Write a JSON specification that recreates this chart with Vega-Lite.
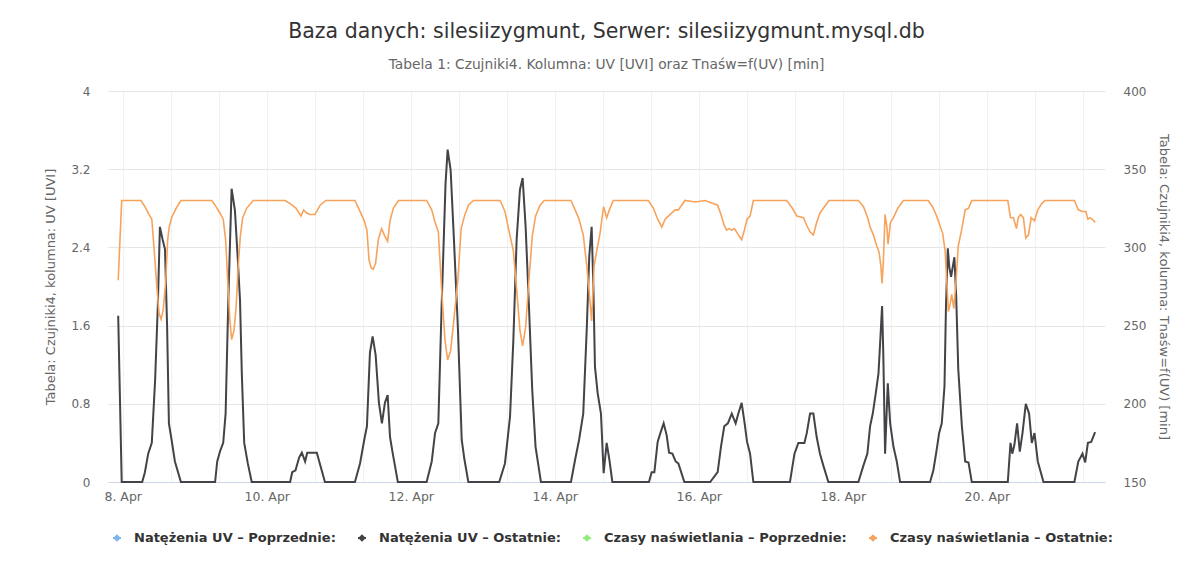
{
  "width": 997,
  "height": 391,
  "autosize": {"type": "none"},
  "padding": {"left": 108, "top": 91, "right": 97, "bottom": 94},
  "background": "white",
  "config": {"view": {"stroke": null}},
  "title": {
    "text": "Baza danych: silesiizygmunt, Serwer: silesiizygmunt.mysql.db",
    "subtitle": "Tabela 1: Czujniki4. Kolumna: UV [UVI] oraz Tnaśw=f(UV) [min]",
    "font": "DejaVu Sans",
    "subtitleFont": "DejaVu Sans",
    "fontSize": 20.5,
    "fontWeight": "normal",
    "color": "#333333",
    "subtitleFontSize": 13.8,
    "subtitleColor": "#666666",
    "subtitlePadding": 16,
    "offset": 13,
    "anchor": "middle"
  },
  "datasets": {
    "uv": [
      {"t": "2021-04-07T22:30", "v": 1.70},
      {"t": "2021-04-07T23:40", "v": 0},
      {"t": "2021-04-08T06:30", "v": 0},
      {"t": "2021-04-08T07:24", "v": 0.10},
      {"t": "2021-04-08T08:30", "v": 0.29},
      {"t": "2021-04-08T09:42", "v": 0.40},
      {"t": "2021-04-08T10:48", "v": 1.04},
      {"t": "2021-04-08T11:42", "v": 1.80},
      {"t": "2021-04-08T12:24", "v": 2.61},
      {"t": "2021-04-08T13:18", "v": 2.48},
      {"t": "2021-04-08T14:06", "v": 2.38},
      {"t": "2021-04-08T14:48", "v": 1.59},
      {"t": "2021-04-08T15:24", "v": 0.60},
      {"t": "2021-04-08T16:18", "v": 0.43},
      {"t": "2021-04-08T17:24", "v": 0.21},
      {"t": "2021-04-08T19:24", "v": 0},
      {"t": "2021-04-09T06:48", "v": 0},
      {"t": "2021-04-09T07:30", "v": 0.21},
      {"t": "2021-04-09T08:24", "v": 0.31},
      {"t": "2021-04-09T09:30", "v": 0.40},
      {"t": "2021-04-09T10:18", "v": 0.70},
      {"t": "2021-04-09T11:12", "v": 1.86},
      {"t": "2021-04-09T12:18", "v": 3.00},
      {"t": "2021-04-09T13:24", "v": 2.78},
      {"t": "2021-04-09T14:18", "v": 2.31},
      {"t": "2021-04-09T15:06", "v": 1.86},
      {"t": "2021-04-09T15:42", "v": 1.11},
      {"t": "2021-04-09T16:30", "v": 0.40},
      {"t": "2021-04-09T17:42", "v": 0.19},
      {"t": "2021-04-09T19:00", "v": 0},
      {"t": "2021-04-10T07:48", "v": 0},
      {"t": "2021-04-10T08:30", "v": 0.10},
      {"t": "2021-04-10T09:36", "v": 0.12},
      {"t": "2021-04-10T10:48", "v": 0.25},
      {"t": "2021-04-10T11:42", "v": 0.30},
      {"t": "2021-04-10T12:48", "v": 0.21},
      {"t": "2021-04-10T13:30", "v": 0.30},
      {"t": "2021-04-10T16:42", "v": 0.30},
      {"t": "2021-04-10T19:24", "v": 0},
      {"t": "2021-04-11T05:24", "v": 0},
      {"t": "2021-04-11T07:06", "v": 0.19},
      {"t": "2021-04-11T08:30", "v": 0.43},
      {"t": "2021-04-11T09:24", "v": 0.57},
      {"t": "2021-04-11T10:24", "v": 1.32},
      {"t": "2021-04-11T11:18", "v": 1.49},
      {"t": "2021-04-11T12:18", "v": 1.30},
      {"t": "2021-04-11T13:24", "v": 0.81},
      {"t": "2021-04-11T14:24", "v": 0.60},
      {"t": "2021-04-11T15:24", "v": 0.81},
      {"t": "2021-04-11T16:18", "v": 0.89},
      {"t": "2021-04-11T17:06", "v": 0.46},
      {"t": "2021-04-11T17:54", "v": 0.31},
      {"t": "2021-04-11T19:42", "v": 0},
      {"t": "2021-04-12T05:18", "v": 0},
      {"t": "2021-04-12T07:00", "v": 0.21},
      {"t": "2021-04-12T08:06", "v": 0.50},
      {"t": "2021-04-12T09:12", "v": 0.60},
      {"t": "2021-04-12T10:18", "v": 1.80},
      {"t": "2021-04-12T11:36", "v": 3.05},
      {"t": "2021-04-12T12:18", "v": 3.40},
      {"t": "2021-04-12T13:18", "v": 3.19},
      {"t": "2021-04-12T14:24", "v": 2.48},
      {"t": "2021-04-12T15:42", "v": 1.59},
      {"t": "2021-04-12T17:00", "v": 0.43},
      {"t": "2021-04-12T17:54", "v": 0.23},
      {"t": "2021-04-12T19:12", "v": 0},
      {"t": "2021-04-13T05:30", "v": 0},
      {"t": "2021-04-13T07:24", "v": 0.19},
      {"t": "2021-04-13T09:06", "v": 0.67},
      {"t": "2021-04-13T10:12", "v": 1.45},
      {"t": "2021-04-13T11:18", "v": 2.48},
      {"t": "2021-04-13T12:24", "v": 2.99},
      {"t": "2021-04-13T13:18", "v": 3.11},
      {"t": "2021-04-13T14:18", "v": 2.61},
      {"t": "2021-04-13T15:24", "v": 1.80},
      {"t": "2021-04-13T16:30", "v": 0.94},
      {"t": "2021-04-13T17:36", "v": 0.36},
      {"t": "2021-04-13T19:24", "v": 0},
      {"t": "2021-04-14T05:24", "v": 0},
      {"t": "2021-04-14T06:48", "v": 0.23},
      {"t": "2021-04-14T08:06", "v": 0.43},
      {"t": "2021-04-14T09:30", "v": 0.70},
      {"t": "2021-04-14T10:42", "v": 1.59},
      {"t": "2021-04-14T11:30", "v": 2.31},
      {"t": "2021-04-14T12:18", "v": 2.61},
      {"t": "2021-04-14T12:54", "v": 1.97},
      {"t": "2021-04-14T13:24", "v": 1.18},
      {"t": "2021-04-14T14:18", "v": 0.91},
      {"t": "2021-04-14T15:24", "v": 0.70},
      {"t": "2021-04-14T16:18", "v": 0.09},
      {"t": "2021-04-14T17:18", "v": 0.40},
      {"t": "2021-04-14T18:12", "v": 0.23},
      {"t": "2021-04-14T19:12", "v": 0},
      {"t": "2021-04-15T07:24", "v": 0},
      {"t": "2021-04-15T08:18", "v": 0.10},
      {"t": "2021-04-15T09:12", "v": 0.10},
      {"t": "2021-04-15T10:18", "v": 0.41},
      {"t": "2021-04-15T11:12", "v": 0.50},
      {"t": "2021-04-15T12:18", "v": 0.60},
      {"t": "2021-04-15T13:18", "v": 0.48},
      {"t": "2021-04-15T14:06", "v": 0.30},
      {"t": "2021-04-15T15:12", "v": 0.29},
      {"t": "2021-04-15T16:18", "v": 0.21},
      {"t": "2021-04-15T17:12", "v": 0.19},
      {"t": "2021-04-15T19:12", "v": 0},
      {"t": "2021-04-16T03:48", "v": 0},
      {"t": "2021-04-16T06:18", "v": 0.10},
      {"t": "2021-04-16T07:24", "v": 0.36},
      {"t": "2021-04-16T08:30", "v": 0.57},
      {"t": "2021-04-16T09:42", "v": 0.60},
      {"t": "2021-04-16T11:00", "v": 0.70},
      {"t": "2021-04-16T12:18", "v": 0.60},
      {"t": "2021-04-16T13:12", "v": 0.70},
      {"t": "2021-04-16T14:18", "v": 0.81},
      {"t": "2021-04-16T15:12", "v": 0.62},
      {"t": "2021-04-16T16:06", "v": 0.41},
      {"t": "2021-04-16T17:06", "v": 0.29},
      {"t": "2021-04-16T18:12", "v": 0},
      {"t": "2021-04-17T06:24", "v": 0},
      {"t": "2021-04-17T07:54", "v": 0.29},
      {"t": "2021-04-17T09:12", "v": 0.40},
      {"t": "2021-04-17T11:12", "v": 0.40},
      {"t": "2021-04-17T12:00", "v": 0.50},
      {"t": "2021-04-17T13:06", "v": 0.70},
      {"t": "2021-04-17T14:12", "v": 0.70},
      {"t": "2021-04-17T15:18", "v": 0.46},
      {"t": "2021-04-17T16:24", "v": 0.29},
      {"t": "2021-04-17T17:30", "v": 0.17},
      {"t": "2021-04-17T19:12", "v": 0},
      {"t": "2021-04-18T05:12", "v": 0},
      {"t": "2021-04-18T06:54", "v": 0.17},
      {"t": "2021-04-18T08:12", "v": 0.29},
      {"t": "2021-04-18T09:06", "v": 0.57},
      {"t": "2021-04-18T10:00", "v": 0.70},
      {"t": "2021-04-18T11:00", "v": 0.91},
      {"t": "2021-04-18T11:54", "v": 1.11},
      {"t": "2021-04-18T12:30", "v": 1.45},
      {"t": "2021-04-18T13:06", "v": 1.80},
      {"t": "2021-04-18T13:30", "v": 1.32},
      {"t": "2021-04-18T14:06", "v": 0.29},
      {"t": "2021-04-18T15:00", "v": 1.01},
      {"t": "2021-04-18T15:48", "v": 0.60},
      {"t": "2021-04-18T16:54", "v": 0.36},
      {"t": "2021-04-18T18:00", "v": 0.21},
      {"t": "2021-04-18T19:06", "v": 0},
      {"t": "2021-04-19T05:06", "v": 0},
      {"t": "2021-04-19T06:12", "v": 0.12},
      {"t": "2021-04-19T07:18", "v": 0.33},
      {"t": "2021-04-19T08:06", "v": 0.50},
      {"t": "2021-04-19T09:00", "v": 0.60},
      {"t": "2021-04-19T09:54", "v": 0.98},
      {"t": "2021-04-19T10:24", "v": 1.80},
      {"t": "2021-04-19T11:00", "v": 2.39},
      {"t": "2021-04-19T11:30", "v": 2.20},
      {"t": "2021-04-19T12:06", "v": 2.10},
      {"t": "2021-04-19T13:12", "v": 2.30},
      {"t": "2021-04-19T13:48", "v": 1.90},
      {"t": "2021-04-19T14:30", "v": 1.15},
      {"t": "2021-04-19T15:42", "v": 0.57},
      {"t": "2021-04-19T16:48", "v": 0.21},
      {"t": "2021-04-19T17:54", "v": 0.20},
      {"t": "2021-04-19T19:00", "v": 0},
      {"t": "2021-04-20T07:00", "v": 0},
      {"t": "2021-04-20T07:54", "v": 0.40},
      {"t": "2021-04-20T08:30", "v": 0.29},
      {"t": "2021-04-20T09:12", "v": 0.38},
      {"t": "2021-04-20T10:06", "v": 0.60},
      {"t": "2021-04-20T11:00", "v": 0.31},
      {"t": "2021-04-20T11:54", "v": 0.50},
      {"t": "2021-04-20T13:00", "v": 0.80},
      {"t": "2021-04-20T14:06", "v": 0.70},
      {"t": "2021-04-20T15:00", "v": 0.40},
      {"t": "2021-04-20T15:54", "v": 0.50},
      {"t": "2021-04-20T17:00", "v": 0.21},
      {"t": "2021-04-20T18:54", "v": 0},
      {"t": "2021-04-21T05:12", "v": 0},
      {"t": "2021-04-21T06:30", "v": 0.21},
      {"t": "2021-04-21T07:54", "v": 0.29},
      {"t": "2021-04-21T08:48", "v": 0.20},
      {"t": "2021-04-21T09:42", "v": 0.40},
      {"t": "2021-04-21T10:48", "v": 0.41},
      {"t": "2021-04-21T12:06", "v": 0.51}
    ],
    "tn": [
      {"t": "2021-04-07T22:30", "v": 279},
      {"t": "2021-04-07T23:40", "v": 330},
      {"t": "2021-04-08T06:06", "v": 330},
      {"t": "2021-04-08T07:24", "v": 326},
      {"t": "2021-04-08T08:48", "v": 321},
      {"t": "2021-04-08T09:42", "v": 318},
      {"t": "2021-04-08T10:30", "v": 298},
      {"t": "2021-04-08T11:18", "v": 277},
      {"t": "2021-04-08T12:06", "v": 258},
      {"t": "2021-04-08T12:48", "v": 254},
      {"t": "2021-04-08T13:30", "v": 260},
      {"t": "2021-04-08T14:18", "v": 277},
      {"t": "2021-04-08T15:00", "v": 305},
      {"t": "2021-04-08T15:30", "v": 313},
      {"t": "2021-04-08T16:18", "v": 319},
      {"t": "2021-04-08T17:48", "v": 325},
      {"t": "2021-04-08T19:24", "v": 330},
      {"t": "2021-04-09T05:42", "v": 330},
      {"t": "2021-04-09T06:48", "v": 327},
      {"t": "2021-04-09T08:24", "v": 322},
      {"t": "2021-04-09T09:30", "v": 318},
      {"t": "2021-04-09T10:18", "v": 305},
      {"t": "2021-04-09T11:00", "v": 279},
      {"t": "2021-04-09T11:42", "v": 254},
      {"t": "2021-04-09T12:18", "v": 241},
      {"t": "2021-04-09T13:06", "v": 247},
      {"t": "2021-04-09T13:48", "v": 262},
      {"t": "2021-04-09T14:30", "v": 288},
      {"t": "2021-04-09T15:12", "v": 307},
      {"t": "2021-04-09T16:00", "v": 319},
      {"t": "2021-04-09T17:18", "v": 325},
      {"t": "2021-04-09T19:30", "v": 330},
      {"t": "2021-04-10T06:06", "v": 330},
      {"t": "2021-04-10T07:48", "v": 328},
      {"t": "2021-04-10T09:48", "v": 325},
      {"t": "2021-04-10T11:24", "v": 320},
      {"t": "2021-04-10T12:18", "v": 324},
      {"t": "2021-04-10T13:18", "v": 322},
      {"t": "2021-04-10T14:24", "v": 321},
      {"t": "2021-04-10T16:06", "v": 321},
      {"t": "2021-04-10T17:48", "v": 327},
      {"t": "2021-04-10T19:42", "v": 330},
      {"t": "2021-04-11T05:24", "v": 330},
      {"t": "2021-04-11T07:06", "v": 323},
      {"t": "2021-04-11T08:30", "v": 317},
      {"t": "2021-04-11T09:24", "v": 311},
      {"t": "2021-04-11T10:06", "v": 292},
      {"t": "2021-04-11T10:48", "v": 287},
      {"t": "2021-04-11T11:30", "v": 286},
      {"t": "2021-04-11T12:18", "v": 290},
      {"t": "2021-04-11T13:12", "v": 305},
      {"t": "2021-04-11T14:18", "v": 312},
      {"t": "2021-04-11T15:24", "v": 307},
      {"t": "2021-04-11T16:18", "v": 304},
      {"t": "2021-04-11T17:06", "v": 317},
      {"t": "2021-04-11T18:12", "v": 325},
      {"t": "2021-04-11T19:54", "v": 330},
      {"t": "2021-04-12T05:18", "v": 330},
      {"t": "2021-04-12T07:00", "v": 324},
      {"t": "2021-04-12T08:06", "v": 316},
      {"t": "2021-04-12T09:12", "v": 310},
      {"t": "2021-04-12T10:18", "v": 273},
      {"t": "2021-04-12T11:24", "v": 241},
      {"t": "2021-04-12T12:18", "v": 228},
      {"t": "2021-04-12T13:18", "v": 234},
      {"t": "2021-04-12T14:24", "v": 254},
      {"t": "2021-04-12T15:42", "v": 279},
      {"t": "2021-04-12T16:48", "v": 312},
      {"t": "2021-04-12T17:54", "v": 320},
      {"t": "2021-04-12T19:12", "v": 327},
      {"t": "2021-04-12T20:54", "v": 330},
      {"t": "2021-04-13T05:48", "v": 330},
      {"t": "2021-04-13T07:24", "v": 323},
      {"t": "2021-04-13T08:48", "v": 310},
      {"t": "2021-04-13T10:12", "v": 298},
      {"t": "2021-04-13T11:18", "v": 273},
      {"t": "2021-04-13T12:24", "v": 247},
      {"t": "2021-04-13T13:18", "v": 237},
      {"t": "2021-04-13T14:18", "v": 249},
      {"t": "2021-04-13T15:24", "v": 279},
      {"t": "2021-04-13T16:30", "v": 307},
      {"t": "2021-04-13T17:36", "v": 320},
      {"t": "2021-04-13T19:06", "v": 327},
      {"t": "2021-04-13T20:30", "v": 330},
      {"t": "2021-04-14T05:24", "v": 330},
      {"t": "2021-04-14T06:48", "v": 324},
      {"t": "2021-04-14T08:06", "v": 318},
      {"t": "2021-04-14T09:30", "v": 308},
      {"t": "2021-04-14T10:42", "v": 288},
      {"t": "2021-04-14T11:30", "v": 271},
      {"t": "2021-04-14T12:18", "v": 253},
      {"t": "2021-04-14T13:06", "v": 288},
      {"t": "2021-04-14T14:00", "v": 298},
      {"t": "2021-04-14T15:06", "v": 309},
      {"t": "2021-04-14T15:42", "v": 318},
      {"t": "2021-04-14T16:18", "v": 326},
      {"t": "2021-04-14T17:18", "v": 319},
      {"t": "2021-04-14T18:12", "v": 324},
      {"t": "2021-04-14T19:30", "v": 330},
      {"t": "2021-04-15T07:12", "v": 330},
      {"t": "2021-04-15T08:54", "v": 325},
      {"t": "2021-04-15T10:18", "v": 318},
      {"t": "2021-04-15T11:42", "v": 313},
      {"t": "2021-04-15T12:48", "v": 318},
      {"t": "2021-04-15T14:24", "v": 321},
      {"t": "2021-04-15T16:06", "v": 324},
      {"t": "2021-04-15T17:12", "v": 324},
      {"t": "2021-04-15T19:24", "v": 330},
      {"t": "2021-04-15T22:48", "v": 329},
      {"t": "2021-04-16T02:06", "v": 330},
      {"t": "2021-04-16T06:18", "v": 327},
      {"t": "2021-04-16T07:24", "v": 321},
      {"t": "2021-04-16T08:30", "v": 314},
      {"t": "2021-04-16T09:18", "v": 311},
      {"t": "2021-04-16T10:06", "v": 312},
      {"t": "2021-04-16T11:00", "v": 311},
      {"t": "2021-04-16T11:54", "v": 312},
      {"t": "2021-04-16T13:12", "v": 308},
      {"t": "2021-04-16T14:18", "v": 305},
      {"t": "2021-04-16T15:12", "v": 311},
      {"t": "2021-04-16T16:06", "v": 318},
      {"t": "2021-04-16T17:06", "v": 320},
      {"t": "2021-04-16T18:12", "v": 330},
      {"t": "2021-04-17T05:18", "v": 330},
      {"t": "2021-04-17T07:12", "v": 325},
      {"t": "2021-04-17T08:42", "v": 320},
      {"t": "2021-04-17T10:54", "v": 319},
      {"t": "2021-04-17T12:00", "v": 314},
      {"t": "2021-04-17T13:06", "v": 310},
      {"t": "2021-04-17T14:12", "v": 308},
      {"t": "2021-04-17T15:18", "v": 316},
      {"t": "2021-04-17T16:24", "v": 322},
      {"t": "2021-04-17T17:54", "v": 326},
      {"t": "2021-04-17T19:24", "v": 330},
      {"t": "2021-04-18T05:12", "v": 330},
      {"t": "2021-04-18T06:54", "v": 326},
      {"t": "2021-04-18T08:18", "v": 319},
      {"t": "2021-04-18T09:06", "v": 313},
      {"t": "2021-04-18T10:12", "v": 308},
      {"t": "2021-04-18T11:18", "v": 301},
      {"t": "2021-04-18T12:06", "v": 297},
      {"t": "2021-04-18T12:42", "v": 288},
      {"t": "2021-04-18T13:06", "v": 277},
      {"t": "2021-04-18T13:30", "v": 290},
      {"t": "2021-04-18T14:06", "v": 321},
      {"t": "2021-04-18T14:42", "v": 313},
      {"t": "2021-04-18T15:06", "v": 302},
      {"t": "2021-04-18T15:54", "v": 316},
      {"t": "2021-04-18T16:54", "v": 319},
      {"t": "2021-04-18T18:18", "v": 325},
      {"t": "2021-04-18T20:12", "v": 330},
      {"t": "2021-04-19T04:30", "v": 330},
      {"t": "2021-04-19T05:54", "v": 326},
      {"t": "2021-04-19T07:18", "v": 320},
      {"t": "2021-04-19T08:24", "v": 314},
      {"t": "2021-04-19T09:18", "v": 309},
      {"t": "2021-04-19T10:06", "v": 298},
      {"t": "2021-04-19T10:42", "v": 277},
      {"t": "2021-04-19T11:12", "v": 259},
      {"t": "2021-04-19T11:48", "v": 264},
      {"t": "2021-04-19T12:18", "v": 270},
      {"t": "2021-04-19T13:00", "v": 261},
      {"t": "2021-04-19T13:42", "v": 277},
      {"t": "2021-04-19T14:30", "v": 301},
      {"t": "2021-04-19T15:42", "v": 312},
      {"t": "2021-04-19T16:48", "v": 324},
      {"t": "2021-04-19T17:54", "v": 325},
      {"t": "2021-04-19T19:00", "v": 330},
      {"t": "2021-04-20T07:00", "v": 330},
      {"t": "2021-04-20T07:54", "v": 319},
      {"t": "2021-04-20T08:54", "v": 319},
      {"t": "2021-04-20T09:54", "v": 312},
      {"t": "2021-04-20T10:30", "v": 319},
      {"t": "2021-04-20T11:18", "v": 321},
      {"t": "2021-04-20T12:12", "v": 319},
      {"t": "2021-04-20T13:00", "v": 306},
      {"t": "2021-04-20T13:54", "v": 308},
      {"t": "2021-04-20T14:48", "v": 319},
      {"t": "2021-04-20T15:54", "v": 317},
      {"t": "2021-04-20T17:00", "v": 324},
      {"t": "2021-04-20T18:18", "v": 328},
      {"t": "2021-04-20T19:24", "v": 330},
      {"t": "2021-04-21T05:12", "v": 330},
      {"t": "2021-04-21T06:30", "v": 324},
      {"t": "2021-04-21T07:54", "v": 323},
      {"t": "2021-04-21T09:00", "v": 323},
      {"t": "2021-04-21T09:42", "v": 318},
      {"t": "2021-04-21T10:24", "v": 319},
      {"t": "2021-04-21T11:12", "v": 318},
      {"t": "2021-04-21T12:06", "v": 316}
    ]
  },
  "layer": [
    {
      "data": {"name": "uv"},
      "mark": {"type": "line", "strokeWidth": 2},
      "encoding": {
        "x": {
          "field": "t",
          "type": "temporal",
          "scale": {
            "domain": [
              {"year": 2021, "month": 4, "date": 7, "hours": 19, "minutes": 6},
              {"year": 2021, "month": 4, "date": 21, "hours": 15, "minutes": 24}
            ]
          },
          "axis": {
            "values": [
              {"year": 2021, "month": 4, "date": 8, "hours": 0},
              {"year": 2021, "month": 4, "date": 8, "hours": 8},
              {"year": 2021, "month": 4, "date": 8, "hours": 16},
              {"year": 2021, "month": 4, "date": 9, "hours": 0},
              {"year": 2021, "month": 4, "date": 9, "hours": 8},
              {"year": 2021, "month": 4, "date": 9, "hours": 16},
              {"year": 2021, "month": 4, "date": 10, "hours": 0},
              {"year": 2021, "month": 4, "date": 10, "hours": 8},
              {"year": 2021, "month": 4, "date": 10, "hours": 16},
              {"year": 2021, "month": 4, "date": 11, "hours": 0},
              {"year": 2021, "month": 4, "date": 11, "hours": 8},
              {"year": 2021, "month": 4, "date": 11, "hours": 16},
              {"year": 2021, "month": 4, "date": 12, "hours": 0},
              {"year": 2021, "month": 4, "date": 12, "hours": 8},
              {"year": 2021, "month": 4, "date": 12, "hours": 16},
              {"year": 2021, "month": 4, "date": 13, "hours": 0},
              {"year": 2021, "month": 4, "date": 13, "hours": 8},
              {"year": 2021, "month": 4, "date": 13, "hours": 16},
              {"year": 2021, "month": 4, "date": 14, "hours": 0},
              {"year": 2021, "month": 4, "date": 14, "hours": 8},
              {"year": 2021, "month": 4, "date": 14, "hours": 16},
              {"year": 2021, "month": 4, "date": 15, "hours": 0},
              {"year": 2021, "month": 4, "date": 15, "hours": 8},
              {"year": 2021, "month": 4, "date": 15, "hours": 16},
              {"year": 2021, "month": 4, "date": 16, "hours": 0},
              {"year": 2021, "month": 4, "date": 16, "hours": 8},
              {"year": 2021, "month": 4, "date": 16, "hours": 16},
              {"year": 2021, "month": 4, "date": 17, "hours": 0},
              {"year": 2021, "month": 4, "date": 17, "hours": 8},
              {"year": 2021, "month": 4, "date": 17, "hours": 16},
              {"year": 2021, "month": 4, "date": 18, "hours": 0},
              {"year": 2021, "month": 4, "date": 18, "hours": 8},
              {"year": 2021, "month": 4, "date": 18, "hours": 16},
              {"year": 2021, "month": 4, "date": 19, "hours": 0},
              {"year": 2021, "month": 4, "date": 19, "hours": 8},
              {"year": 2021, "month": 4, "date": 19, "hours": 16},
              {"year": 2021, "month": 4, "date": 20, "hours": 0},
              {"year": 2021, "month": 4, "date": 20, "hours": 8},
              {"year": 2021, "month": 4, "date": 20, "hours": 16},
              {"year": 2021, "month": 4, "date": 21, "hours": 0},
              {"year": 2021, "month": 4, "date": 21, "hours": 8}
            ],
            "labelExpr": "hours(datum.value) == 0 && date(datum.value) % 2 == 0 ? timeFormat(datum.value, '%-d. %b') : ''",
            "labelOverlap": false,
            "labelFlush": false,
            "title": null,
            "grid": true,
            "gridColor": "#f2f2f2",
            "ticks": false,
            "labelColor": "#666666",
            "labelFontSize": 12.5,
            "labelFont": "DejaVu Sans",
            "labelPadding": 8,
            "domainColor": "#ccd6eb"
          }
        },
        "y": {
          "field": "v",
          "type": "quantitative",
          "scale": {"domain": [0, 4], "nice": false, "zero": false},
          "axis": {
            "values": [0, 0.8, 1.6, 2.4, 3.2, 4],
            "labelExpr": "datum.value + ''",
            "title": "Tabela: Czujniki4, kolumna: UV [UVI]",
            "grid": true,
            "gridColor": "#e6e6e6",
            "domain": false,
            "ticks": false,
            "labelColor": "#666666",
            "labelFontSize": 12,
            "labelFont": "DejaVu Sans",
            "labelPadding": 18,
            "titleColor": "#666666",
            "titleFontSize": 13,
            "titleFont": "DejaVu Sans",
            "titleFontWeight": "normal",
            "titlePadding": 13
          }
        },
        "color": {
          "datum": "Natężenia UV – Ostatnie:",
          "type": "nominal",
          "scale": {
            "domain": ["Natężenia UV – Poprzednie:", "Natężenia UV – Ostatnie:", "Czasy naświetlania – Poprzednie:", "Czasy naświetlania – Ostatnie:"],
            "range": ["#7cb5ec", "#434348", "#90ed7d", "#f7a35c"]
          },
          "legend": {
            "orient": "bottom",
            "direction": "horizontal",
            "offset": 26,
            "padding": 0,
            "title": null,
            "labelFont": "DejaVu Sans",
            "labelFontWeight": "bold",
            "labelFontSize": 13,
            "labelColor": "#333333",
            "labelLimit": 0,
            "labelOffset": 8,
            "symbolType": "M-0.5,0H0.5M0,-0.3L0.3,0L0,0.3L-0.3,0Z",
            "symbolSize": 256,
            "symbolStrokeWidth": 2,
            "columnPadding": 17,
            "encode": {
              "symbols": {
                "update": {
                  "fill": {"scale": "color", "field": "value"}
                }
              }
            }
          }
        }
      }
    },
    {
      "data": {"name": "tn"},
      "mark": {"type": "line", "strokeWidth": 1.6},
      "encoding": {
        "x": {"field": "t", "type": "temporal"},
        "y": {
          "field": "v",
          "type": "quantitative",
          "scale": {"domain": [150, 400], "nice": false, "zero": false},
          "axis": {
            "orient": "right",
            "values": [150, 200, 250, 300, 350, 400],
            "title": "Tabela: Czujniki4, kolumna: Tnaśw=f(UV) [min]",
            "grid": false,
            "domain": false,
            "ticks": false,
            "labelColor": "#666666",
            "labelFontSize": 12,
            "labelFont": "DejaVu Sans",
            "labelPadding": 18,
            "titleColor": "#666666",
            "titleFontSize": 13,
            "titleFont": "DejaVu Sans",
            "titleFontWeight": "normal",
            "titlePadding": 11
          }
        },
        "color": {"datum": "Czasy naświetlania – Ostatnie:", "type": "nominal"}
      }
    }
  ],
  "resolve": {"scale": {"y": "independent"}}
}
